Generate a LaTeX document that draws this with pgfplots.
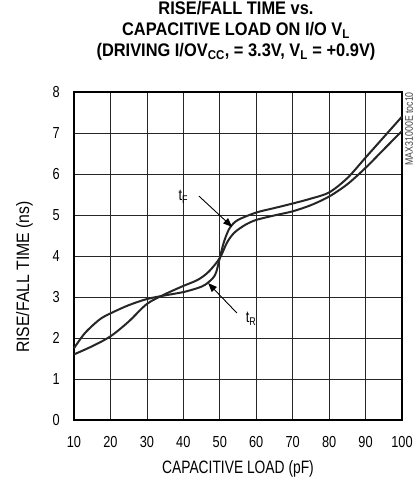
\documentclass[border=0pt]{standalone}
\usepackage{pgfplots}
\pgfplotsset{compat=1.18}
\usepackage{fontspec}
\setmainfont{Liberation Sans}[FakeStretch=0.8]
\newfontfamily\titlefont{Liberation Sans}[FakeStretch=0.9]
\newfontfamily\xlabelfont{Liberation Sans}[FakeStretch=0.77]
\newfontfamily\ylabelfont{Liberation Sans}[FakeStretch=0.88]
\newfontfamily\tinyfont{Liberation Sans}[FakeStretch=0.8]
\usetikzlibrary{arrows.meta}
\begin{document}
\begin{tikzpicture}
\begin{axis}[
  scale only axis,
  width=328bp, height=328bp,
  xmin=10, xmax=100, ymin=0, ymax=8,
  xtick={10,20,...,100}, ytick={0,1,...,8},
  grid=major,
  major grid style={black!85, line width=0.7bp},
  major tick length=0pt,
  axis line style={black, line width=2bp},
  tick label style={font=\fontsize{16}{18}\selectfont, inner sep=0pt},
  /pgf/number format/assume math mode=true,
  xticklabel style={anchor=north, yshift=-16bp},
  yticklabel style={anchor=east, xshift=-14bp},
  xlabel={CAPACITIVE LOAD (pF)},
  ylabel={RISE/FALL TIME (ns)},
  label style={inner sep=0pt},
  xlabel style={font=\xlabelfont\fontsize{18}{20}\selectfont, at={(axis description cs:0.5,0)}, anchor=north, yshift=-40bp},
  ylabel style={font=\ylabelfont\fontsize{18}{20}\selectfont, at={([xshift=-41bp]axis description cs:0,0.436)}, anchor=south},
  title style={font=\titlefont\bfseries\fontsize{18.3}{21}\selectfont, align=center, inner sep=0pt,
    at={(axis description cs:0.5,1)}, anchor=north, yshift=85bp, xshift=-2bp},
  title={RISE/FALL TIME vs.\\CAPACITIVE LOAD ON I/O V\textsubscript{L}\\(DRIVING I/OV\textsubscript{CC}, = 3.3V, V\textsubscript{L} = +0.9V)},
  clip=false,
]
\addplot[black!85, line width=2bp, smooth, tension=0.5] coordinates {
(10,1.6) (15,1.8) (20,2.04) (25,2.4) (30,2.83) (35,3.07) (40,3.27) (44,3.42) (47,3.62) (50,3.95)
(52,4.33) (54,4.57) (57,4.76) (60,4.88) (65,4.99) (70,5.09) (75,5.24) (80,5.45) (85,5.75) (90,6.15) (95,6.6) (100,7.05)};
\addplot[black!85, line width=2bp, smooth, tension=0.5] coordinates {
(10,1.75) (13,2.12) (17,2.45) (20,2.6) (25,2.8) (30,2.95) (35,3.04) (40,3.12) (44,3.22) (46,3.3) (48,3.45) (49,3.6) (50,3.95)
(51,4.3) (52,4.55) (53,4.72) (55,4.88) (60,5.06) (65,5.17) (70,5.28) (75,5.4) (80,5.55) (85,5.9) (90,6.4) (95,6.9) (100,7.4)};
\node[font=\fontsize{16}{18}\selectfont] at (axis cs:40,5.44) {t\textsubscript{F}};
\draw[-{Triangle[length=9bp,width=7bp]}, line width=0.9bp] (axis cs:44.3,5.46) -- (axis cs:53.4,4.71);
\node[font=\fontsize{16}{18}\selectfont] at (axis cs:58.6,2.47) {t\textsubscript{R}};
\draw[-{Triangle[length=9bp,width=7bp]}, line width=0.9bp] (axis cs:54.7,2.61) -- (axis cs:46.8,3.34);
\node[rotate=90, anchor=north east, inner sep=0pt, font=\tinyfont\fontsize{11}{12}\selectfont, black!75]
  at ([xshift=3bp,yshift=0bp]rel axis cs:1,1) {MAX31000E toc10};
\end{axis}
\pgfresetboundingbox
\path (-74bp,-60bp) rectangle (341bp,420bp);
\end{tikzpicture}
\end{document}
